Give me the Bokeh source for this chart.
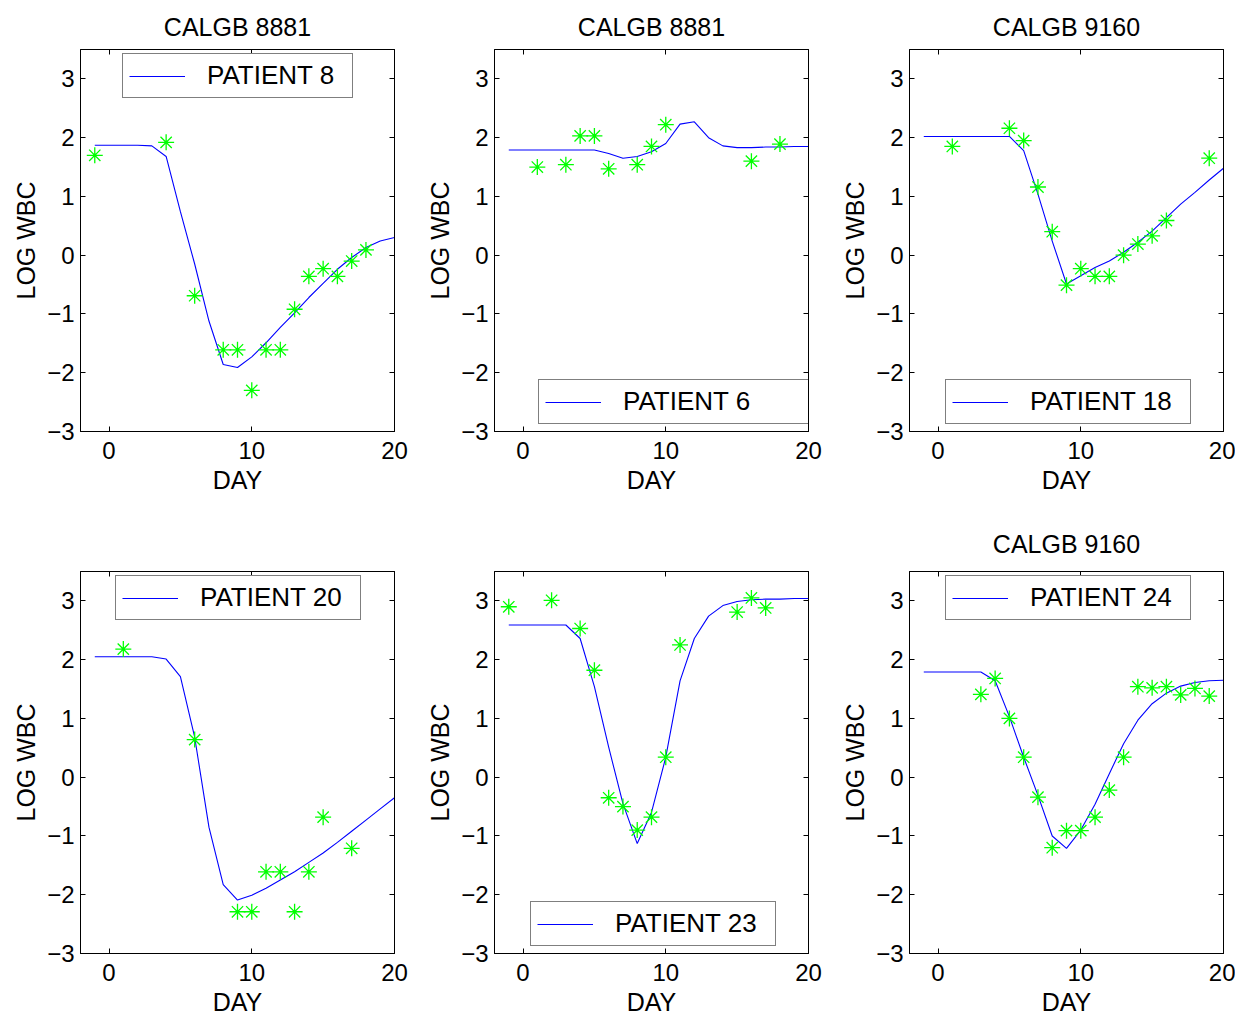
from bokeh.plotting import figure
from bokeh.layouts import column, row
from bokeh.models import Range1d, FixedTicker, LinearAxis, Legend, LegendItem
from bokeh.embed import file_html
from bokeh.resources import INLINE

# ---------------- data ----------------
curve_days = list(range(-1, 21))

p8_curve = [1.87, 1.87, 1.87, 1.87, 1.86, 1.68, 0.74, -0.15, -1.12, -1.86, -1.91,
            -1.73, -1.49, -1.23, -0.98, -0.72, -0.48, -0.24, -0.04, 0.13, 0.24, 0.30]
p8_days = [-1, 4, 6, 8, 9, 10, 11, 12, 13, 14, 15, 16, 17, 18]
p8_obs = [1.70, 1.92, -0.69, -1.61, -1.61, -2.30, -1.61, -1.61, -0.92, -0.36, -0.23, -0.36, -0.10, 0.09]

p6_curve = [1.79, 1.79, 1.79, 1.79, 1.79, 1.79, 1.79, 1.73, 1.65, 1.68, 1.76,
            1.90, 2.23, 2.27, 2.00, 1.86, 1.83, 1.83, 1.84, 1.84, 1.85, 1.85]
p6_days = [1, 3, 4, 5, 6, 8, 9, 10, 16, 18]
p6_obs = [1.50, 1.54, 2.03, 2.03, 1.47, 1.54, 1.85, 2.22, 1.60, 1.89]

p18_curve = [2.02, 2.02, 2.02, 2.02, 2.02, 2.02, 2.02, 1.78, 1.04, 0.24, -0.49,
             -0.35, -0.21, -0.10, 0.05, 0.22, 0.41, 0.64, 0.87, 1.07, 1.28, 1.48]
p18_days = [1, 5, 6, 7, 8, 9, 10, 11, 12, 13, 14, 15, 16, 19]
p18_obs = [1.85, 2.16, 1.95, 1.16, 0.40, -0.51, -0.23, -0.36, -0.36, 0.00, 0.19, 0.33, 0.59, 1.65]

p20_curve = [2.05, 2.05, 2.05, 2.05, 2.05, 2.01, 1.71, 0.68, -0.85, -1.83, -2.09,
             -2.01, -1.89, -1.75, -1.61, -1.45, -1.29, -1.11, -0.92, -0.73, -0.54, -0.35]
p20_days = [1, 6, 9, 10, 11, 12, 13, 14, 15, 17]
p20_obs = [2.18, 0.64, -2.29, -2.29, -1.61, -1.61, -2.29, -1.61, -0.68, -1.21]

p23_curve = [2.59, 2.59, 2.59, 2.59, 2.59, 2.36, 1.54, 0.51, -0.45, -1.13, -0.60,
             0.34, 1.64, 2.36, 2.74, 2.92, 2.99, 3.02, 3.03, 3.03, 3.04, 3.04]
p23_days = [-1, 2, 4, 5, 6, 7, 8, 9, 10, 11, 15, 16, 17]
p23_obs = [2.90, 3.01, 2.53, 1.82, -0.35, -0.50, -0.90, -0.68, 0.34, 2.25, 2.81, 3.05, 2.88]

p24_curve = [1.79, 1.79, 1.79, 1.79, 1.79, 1.64, 1.03, 0.34, -0.31, -1.00, -1.21,
             -0.90, -0.46, 0.06, 0.57, 0.97, 1.25, 1.43, 1.55, 1.61, 1.64, 1.65]
p24_days = [3, 4, 5, 6, 7, 8, 9, 10, 11, 12, 13, 14, 15, 16, 17, 18, 19]
p24_obs = [1.41, 1.68, 1.00, 0.34, -0.34, -1.20, -0.91, -0.91, -0.68, -0.22, 0.34,
           1.54, 1.52, 1.54, 1.40, 1.51, 1.38]

x_ticks = [0, 10, 20]
y_ticks = [-3, -2, -1, 0, 1, 2, 3]
y_tick_labels = {-3: "\u22123", -2: "\u22122", -1: "\u22121", 0: "0", 1: "1", 2: "2", 3: "3"}

FONT = "Liberation Sans"
TICK_FS = "24px"
LABEL_FS = "25px"
FRAME_H = 382


def style_axis(ax, ticks, show_labels):
    ax.ticker = FixedTicker(ticks=ticks)
    ax.major_tick_in = 5
    ax.major_tick_out = 0
    ax.minor_tick_line_color = None
    ax.axis_line_color = "black"
    ax.major_tick_line_color = "black"
    ax.major_label_text_font = FONT
    ax.axis_label_text_font = FONT
    ax.axis_label_text_font_style = "normal"
    ax.axis_label_text_color = "black"
    ax.axis_label_text_font_size = LABEL_FS
    if show_labels:
        ax.major_label_text_color = "black"
        ax.major_label_text_font_size = TICK_FS
    else:
        ax.major_label_text_color = None
        ax.major_label_text_font_size = "1px"
        ax.major_label_standoff = 0


def panel(title, obs_days, obs, curve, label, loc, label_width, width, right,
          top_border, bottom_border, title_standoff):
    p = figure(width=width, height=top_border + FRAME_H + bottom_border,
               x_range=Range1d(-2, 20), y_range=Range1d(-3, 3.5),
               output_backend="svg", toolbar_location=None,
               min_border_left=72, min_border_right=right,
               min_border_top=top_border, min_border_bottom=bottom_border,
               title=title)
    p.background_fill_color = "white"
    p.border_fill_color = "white"
    p.outline_line_color = "black"
    p.xgrid.visible = False
    p.ygrid.visible = False
    if title:
        p.title.text_font = FONT
        p.title.text_font_size = LABEL_FS
        p.title.text_font_style = "normal"
        p.title.align = "center"
        p.title.text_color = "black"
        p.title.standoff = title_standoff

    xa = p.xaxis[0]
    style_axis(xa, x_ticks, True)
    xa.axis_label = "DAY"
    xa.major_label_standoff = 10
    xa.axis_label_standoff = 4

    ya = p.yaxis[0]
    style_axis(ya, y_ticks, True)
    ya.axis_label = "LOG WBC"
    ya.major_label_overrides = y_tick_labels
    ya.major_label_standoff = 6
    ya.axis_label_standoff = 4

    top = LinearAxis()
    style_axis(top, x_ticks, False)
    p.add_layout(top, "above")
    rgt = LinearAxis()
    style_axis(rgt, y_ticks, False)
    p.add_layout(rgt, "right")

    ln = p.line(curve_days, curve, line_color="#0000ff", line_width=1.1)
    p.scatter(obs_days, obs, marker="asterisk", size=16,
              line_color="#00ff00", line_width=1.3)

    leg = Legend(items=[LegendItem(label=label, renderers=[ln])], location=loc)
    leg.border_line_color = "black"
    leg.border_line_width = 1
    leg.background_fill_color = "white"
    leg.background_fill_alpha = 1
    leg.label_text_font = FONT
    leg.label_text_font_size = "26px"
    leg.label_text_color = "black"
    leg.glyph_width = 56
    leg.glyph_height = 20
    leg.label_standoff = 22
    leg.padding = 6
    leg.margin = 0
    leg.label_width = label_width
    leg.label_height = 28
    p.add_layout(leg)
    return p


p1 = panel("CALGB 8881", p8_days, p8_obs, p8_curve, "PATIENT 8", (42, 333), 139, 414, 28, 49, 70, 18)
p2 = panel("CALGB 8881", p6_days, p6_obs, p6_curve, "PATIENT 6", (44, 7), 179, 415, 29, 49, 70, 18)
p3 = panel("CALGB 9160", p18_days, p18_obs, p18_curve, "PATIENT 18", (36, 7), 154, 398, 12, 49, 70, 18)
p4 = panel(None, p20_days, p20_obs, p20_curve, "PATIENT 20", (35, 333), 154, 414, 28, 70, 66, 10)
p5 = panel(None, p23_days, p23_obs, p23_curve, "PATIENT 23", (36, 7), 154, 415, 29, 70, 66, 10)
p6 = panel("CALGB 9160", p24_days, p24_obs, p24_curve, "PATIENT 24", (36, 333), 154, 398, 12, 70, 66, 28)

layout = column(row(p1, p2, p3), row(p4, p5, p6), margin=(0, 0, 0, 8))

open("out.html", "w").write(file_html(layout, INLINE))
